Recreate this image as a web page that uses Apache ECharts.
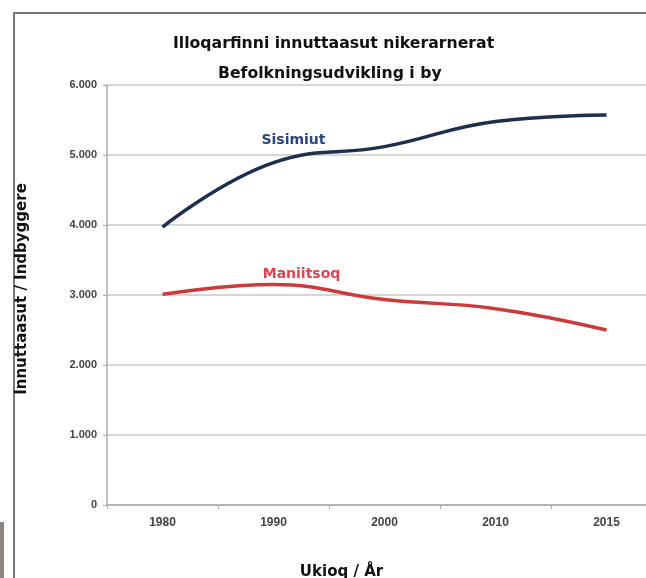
<!DOCTYPE html>
<html><head><meta charset="utf-8">
<script src="https://cdn.jsdelivr.net/npm/echarts@6/dist/echarts.min.js"></script>
<style>html,body{margin:0;padding:0;background:#fff}#c{width:646px;height:578px}</style>
</head><body><div id="c"></div>
<script>
const titleLines = ['Illoqarfinni innuttaasut nikerarnerat', 'Befolkningsudvikling i by'];
const yAxisName = 'Innuttaasut / Indbyggere';
const xAxisName = 'Ukioq / År';
const years = ['1980', '1990', '2000', '2010', '2015'];
const sisimiutName = 'Sisimiut';
const sisimiut = [3970, 4890, 5120, 5480, 5570];
const maniitsoqName = 'Maniitsoq';
const maniitsoq = [3010, 3150, 2935, 2805, 2500];
const yTicks = [0, 1000, 2000, 3000, 4000, 5000, 6000];

const font = '"DejaVu Sans", sans-serif';
const axFont = '"Liberation Sans", Arial, sans-serif';
const chart = echarts.init(document.getElementById('c'), null, {renderer: 'canvas'});
const labelFor = (name, color, offset) => ({
  show: true,
  position: 'top',
  offset: offset,
  formatter: p => p.dataIndex === 1 ? name : '',
  color: color, fontFamily: font, fontWeight: 'bold', fontSize: 14
});
chart.setOption({
  animation: false,
  backgroundColor: '#fff',
  title: [
    {text: titleLines[0], left: 168, top: 31, textStyle: {fontFamily: font, fontWeight: 'bold', fontSize: 15.7, color: '#111'}},
    {text: titleLines[1], left: 213, top: 61, textStyle: {fontFamily: font, fontWeight: 'bold', fontSize: 15.7, color: '#111'}}
  ],
  graphic: [
    {type: 'rect', shape: {x: 14, y: 13, width: 700, height: 700}, style: {fill: 'none', stroke: '#777', lineWidth: 2}, silent: true},
    {type: 'rect', shape: {x: 0, y: 522, width: 4, height: 60}, style: {fill: '#8a8580'}, silent: true}
  ],
  grid: {left: 107, top: 85, bottom: 73, width: 555, outerBoundsMode: 'none', containLabel: false},
  xAxis: {
    type: 'category', data: years, boundaryGap: true,
    name: xAxisName, nameLocation: 'middle', nameGap: 60,
    nameTextStyle: {fontFamily: font, fontWeight: 'bold', fontSize: 15, color: '#111', padding: [0, 86, 0, 0]},
    axisLine: {lineStyle: {color: '#aaa', width: 1.5}},
    axisTick: {show: true, length: 4, lineStyle: {color: '#aaa'}},
    axisLabel: {fontFamily: axFont, fontWeight: 'bold', fontSize: 12, color: '#444', margin: 12}
  },
  yAxis: {
    type: 'value', min: 0, max: 6000, interval: 1000,
    name: yAxisName, nameLocation: 'middle', nameGap: 77, nameRotate: 90,
    nameTextStyle: {fontFamily: font, fontWeight: 'bold', fontSize: 15, color: '#111', padding: [0, 0, 0, 12]},
    axisLine: {show: true, lineStyle: {color: '#aaa', width: 1.5}},
    axisTick: {show: true, length: 4, lineStyle: {color: '#aaa'}},
    splitLine: {lineStyle: {color: '#c8c8c8', width: 1.5}},
    axisLabel: {fontFamily: axFont, fontWeight: 'bold', fontSize: 11, color: '#444', margin: 10,
      formatter: v => yTicks.includes(v) ? (v === 0 ? '0' : (v/1000) + '.000') : ''}
  },
  series: [
    {name: sisimiutName, type: 'line', data: sisimiut, smooth: 0.45, symbol: 'circle', symbolSize: 0, showSymbol: true,
     lineStyle: {color: '#1e2f4e', width: 3.5}, itemStyle: {color: '#1e2f4e'}, label: labelFor(sisimiutName, '#2b4680', [20, -10])},
    {name: maniitsoqName, type: 'line', data: maniitsoq, smooth: 0.45, symbol: 'circle', symbolSize: 0, showSymbol: true,
     lineStyle: {color: '#cc3b3b', width: 3.5}, itemStyle: {color: '#cc3b3b'}, label: labelFor(maniitsoqName, '#e0434f', [28, 2])}
  ]
});
</script></body></html>
